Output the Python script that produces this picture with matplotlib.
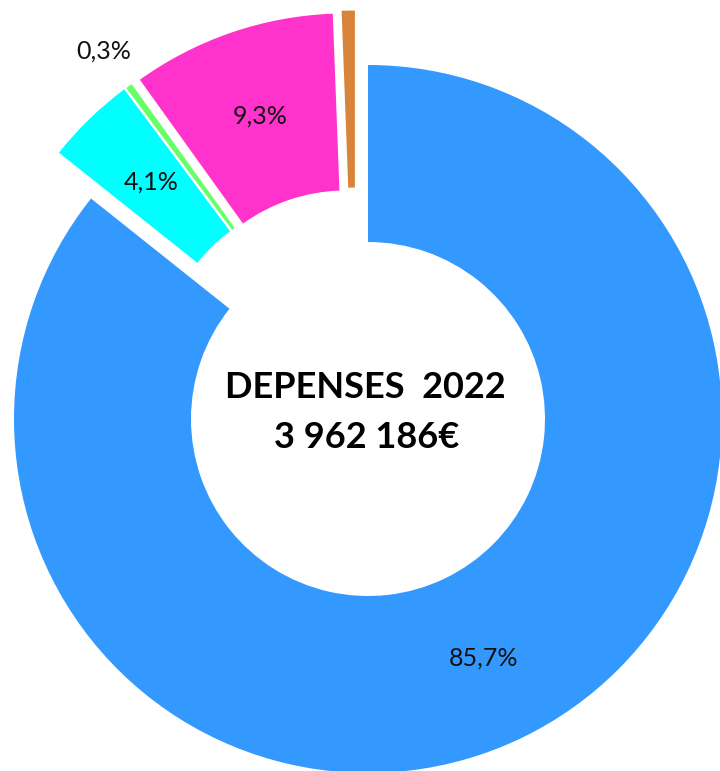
import matplotlib
matplotlib.use('Agg')
import matplotlib.pyplot as plt
import numpy as np

plt.rcParams['font.family'] = ['Lato', 'DejaVu Sans']

# Data
shares = [85.7, 4.1, 0.3, 9.3, 0.6]
labels = ['85,7%', '4,1%', '0,3%', '9,3%', '']
colors = ['#3399FF', '#00FFFF', '#66FF66', '#FF33CC', '#D9843B']
title_lines = ['DEPENSES  2022', '3 962 186€']

# explosion of each slice (distance in px, direction in degrees)
shift_len = [0, 56, 56, 56, 56]
shift_dir = [90, 125, 122.5, 113, 103.5]

R = 354
ring = 177
cx, cy = 368, 771 - 419

fig = plt.figure(figsize=(7.2, 7.71), dpi=100)
ax = fig.add_axes([0, 0, 1, 1])

wedges, _ = ax.pie(shares, colors=colors, startangle=90, counterclock=False,
                   radius=R, center=(cx, cy),
                   wedgeprops=dict(width=ring, linewidth=0))

for w, d, a in zip(wedges, shift_len, shift_dir):
    a = np.deg2rad(a)
    w.set_center((cx + d * np.cos(a), cy + d * np.sin(a)))

ax.set_xlim(0, 720)
ax.set_ylim(0, 771)
ax.set_aspect('equal')
ax.axis('off')

# percentage labels
for w, lab in zip(wedges, labels):
    if not lab:
        continue
    mid = np.deg2rad((w.theta1 + w.theta2) / 2)
    r = R - ring / 2
    if lab == '0,3%':
        r = R + 43
    x0, y0 = w.center
    ax.text(x0 + r * np.cos(mid), y0 + r * np.sin(mid), lab,
            ha='center', va='center', fontsize=18, color='#111111')

ax.text(cx - 3, 771 - 388, title_lines[0], ha='center', va='center',
        fontsize=26, fontweight='bold')
ax.text(cx - 1, 771 - 437, title_lines[1], ha='center', va='center',
        fontsize=26, fontweight='bold')

fig.savefig('out.png', dpi=100)
